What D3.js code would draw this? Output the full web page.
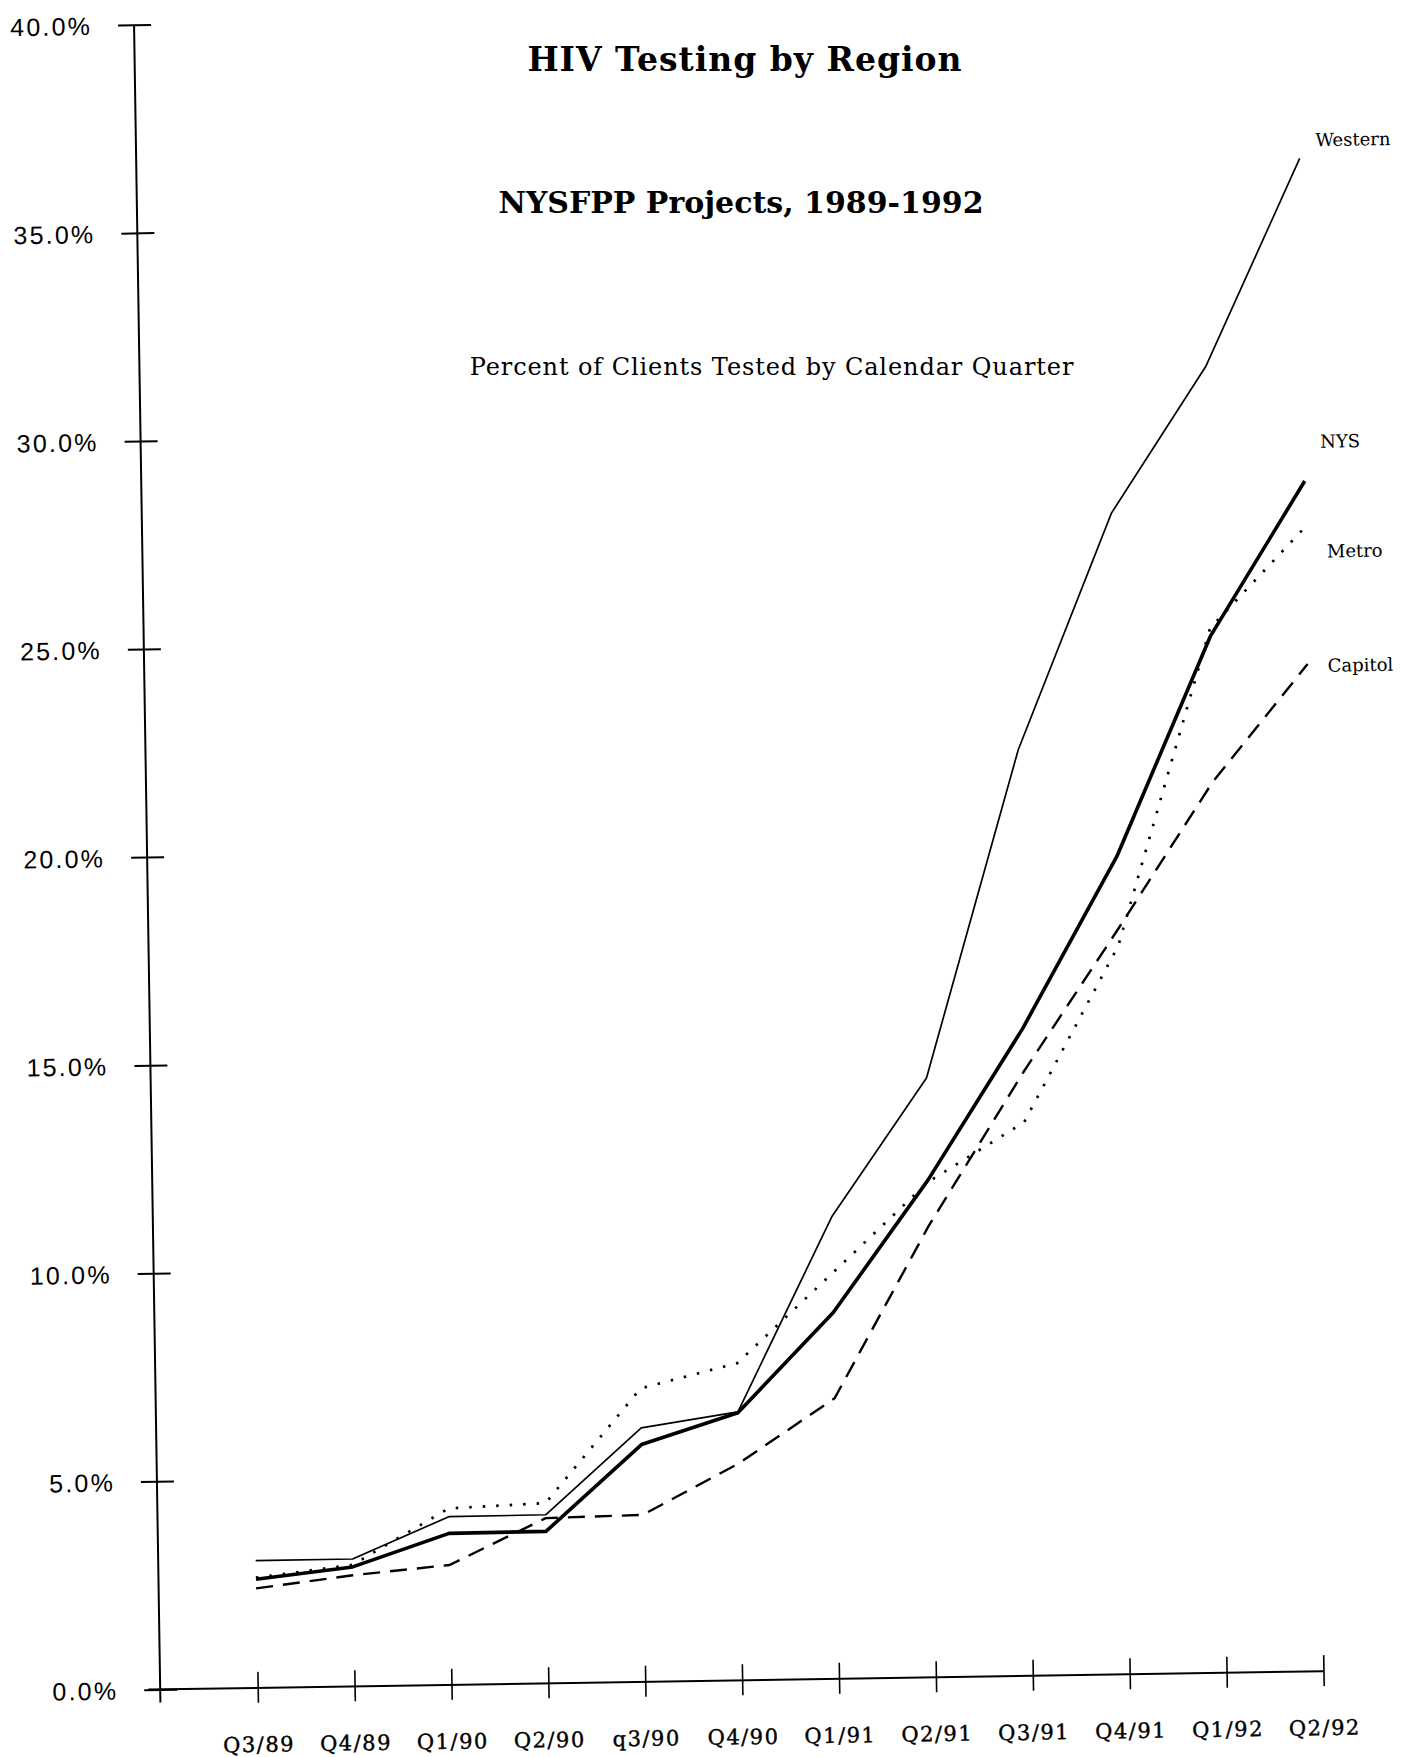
<!DOCTYPE html>
<html>
<head>
<meta charset="utf-8">
<script src="https://cdn.jsdelivr.net/npm/d3@7"></script>
<style>
  body { margin: 0; background: #fff; }
</style>
</head>
<body>
<div class="canvas"></div>
<script>
const width = 1406, height = 1757

// data (percent of clients tested)
const quarters = ['Q3/89', 'Q4/89', 'Q1/90', 'Q2/90', 'q3/90', 'Q4/90', 'Q1/91', 'Q2/91', 'Q3/91', 'Q4/91', 'Q1/92', 'Q2/92']
const western = [3.06, 3.06, 4.04, 4.05, 6.1, 6.45, 11.1, 14.4, 22.25, 27.9, 31.4, 36.35]
const nys = [2.61, 2.87, 3.64, 3.65, 5.7, 6.43, 8.8, 11.95, 15.55, 19.65, 24.9, 28.6]
const metro = [2.65, 2.92, 4.24, 4.33, 7.05, 7.62, 9.75, 11.9, 13.3, 17.5, 25.1, 27.5]
const capitol = [2.39, 2.67, 2.88, 3.97, 4.01, 5.21, 6.74, 10.85, 14.5, 17.9, 21.4, 24.2]
const yTicks = [0, 5, 10, 15, 20, 25, 30, 35, 40]

const series = [
    { name: 'Western', values: western, width: 1.7, dash: null, dx: 16, dy: -12 },
    { name: 'NYS', values: nys, width: 3.6, dash: null, dx: 16, dy: -33 },
    { name: 'Metro', values: metro, width: 2.7, dash: '2.5,11', dx: 21, dy: 31 },
    { name: 'Capitol', values: capitol, width: 2.4, dash: '17,10', dx: 20, dy: 8 }
]

const svg = d3.select('.canvas').append('svg')
    .attr('width', width).attr('height', height)
    .style('background', '#fff')

// titles
svg.append('text').attr('x', 745).attr('y', 71)
    .attr('text-anchor', 'middle')
    .style('font-family', 'DejaVu Serif').style('font-weight', 'bold').style('font-size', '33px')
    .style('letter-spacing', '1px')
    .text('HIV Testing by Region')

svg.append('text').attr('x', 741).attr('y', 213)
    .attr('text-anchor', 'middle')
    .style('font-family', 'DejaVu Serif').style('font-weight', 'bold').style('font-size', '30px')
    .text('NYSFPP Projects, 1989-1992')

svg.append('text').attr('x', 772).attr('y', 375)
    .attr('text-anchor', 'middle')
    .style('font-family', 'DejaVu Serif').style('font-size', '24px')
    .style('letter-spacing', '0.9px')
    .text('Percent of Clients Tested by Calendar Quarter')

// the scan is slightly tilted, so the plot frame is too
const graph = svg.append('g')
    .attr('transform', 'translate(160.2, 1689.4) rotate(-0.9)')

const x = d3.scalePoint().domain(quarters).range([97.5, 1163.4])
const y = d3.scaleLinear().domain([0, 40]).range([0, -1664.8])

// axis lines
graph.append('line')
    .attr('x1', 0).attr('x2', 0).attr('y1', 13).attr('y2', y(40))
    .attr('stroke', '#000').attr('stroke-width', 2)
graph.append('line')
    .attr('x1', -12).attr('x2', x(quarters[quarters.length - 1])).attr('y1', y(0)).attr('y2', y(0))
    .attr('stroke', '#000').attr('stroke-width', 2)

const yAxis = d3.axisLeft(y)
    .tickValues(yTicks)
    .tickFormat(d => d.toFixed(1) + '%')
    .tickSize(0)
const yAxisG = graph.append('g').call(yAxis)
yAxisG.select('.domain').remove()
yAxisG.selectAll('.tick line')
    .attr('x1', -16).attr('x2', 17)
    .attr('stroke', '#000').attr('stroke-width', 2)
yAxisG.selectAll('.tick text')
    .attr('x', -42).attr('dy', '0.36em')
    .attr('fill', '#000')
    .style('font-family', 'Liberation Sans').style('font-size', '25px')
    .style('letter-spacing', '2.2px')

const xAxis = d3.axisBottom(x).tickSize(0)
const xAxisG = graph.append('g').call(xAxis)
xAxisG.select('.domain').remove()
xAxisG.selectAll('.tick line')
    .attr('y1', -16).attr('y2', 15)
    .attr('stroke', '#000').attr('stroke-width', 1.6)
xAxisG.selectAll('.tick text')
    .attr('y', 64).attr('dy', 0)
    .attr('fill', '#000')
    .style('font-family', 'DejaVu Serif').style('font-size', '21px')
    .style('letter-spacing', '1.5px')
    .style('stroke', '#000').style('stroke-width', '0.4px')

// lines
const line = d3.line()
    .x((d, i) => x(quarters[i]))
    .y(d => y(d))

graph.selectAll('path.series').data(series).enter()
    .append('path')
    .attr('class', 'series')
    .attr('d', d => line(d.values))
    .attr('fill', 'none')
    .attr('stroke', '#000')
    .attr('stroke-width', d => d.width)
    .attr('stroke-dasharray', d => d.dash)
    .attr('stroke-linejoin', 'round')

// end labels
graph.selectAll('text.label').data(series).enter()
    .append('text')
    .attr('class', 'label')
    .attr('x', d => x(quarters[quarters.length - 1]) + d.dx)
    .attr('y', d => y(d.values[d.values.length - 1]) + d.dy)
    .style('font-family', 'DejaVu Serif').style('font-size', '18px')
    .text(d => d.name)
</script>
</body>
</html>
